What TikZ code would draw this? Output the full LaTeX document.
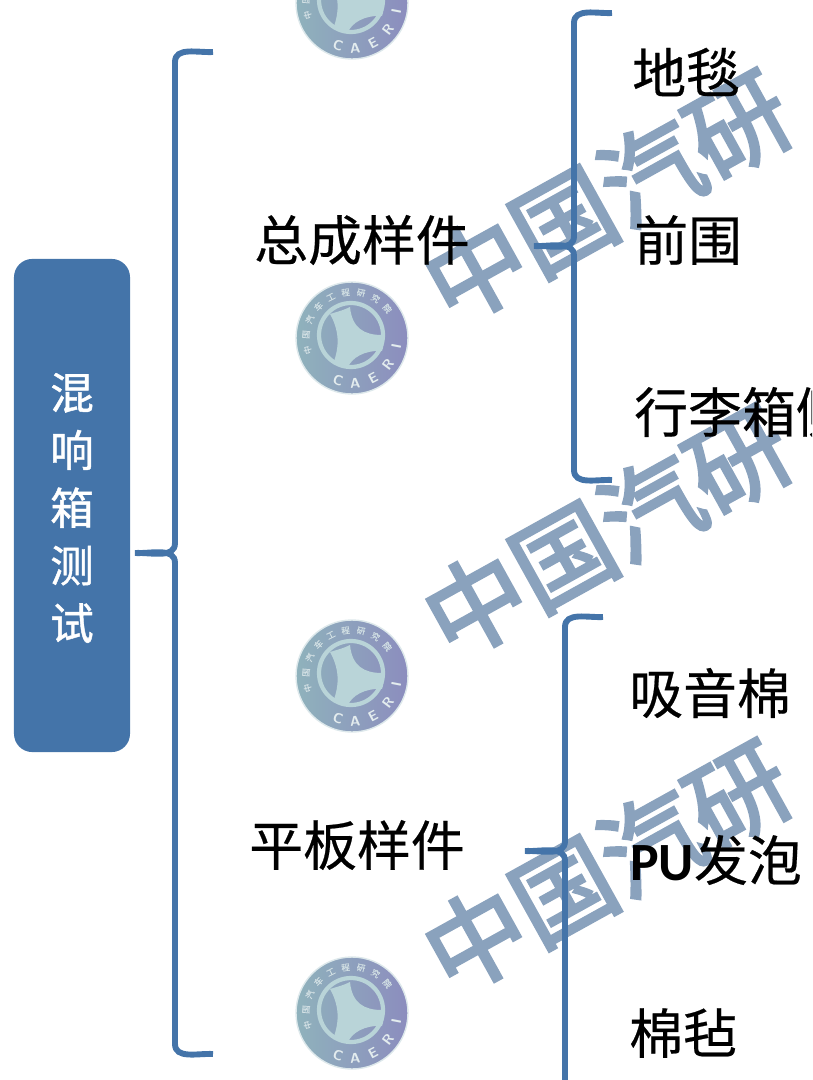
\documentclass[tikz,border=0pt]{standalone}
\usepackage{fontspec}
\usetikzlibrary{calc}
\setmainfont[FakeBold=0.4]{Noto Sans CJK SC}
\newfontfamily\latinbold{Carlito}
\newfontfamily\stampfont[FakeBold=3.2]{Noto Sans CJK SC}
\newfontfamily\boxfont[FakeBold=1]{Noto Sans CJK SC}
\definecolor{boxblue}{HTML}{4474A9}
\definecolor{markblue}{HTML}{8AA2BD}
\definecolor{logoleft}{HTML}{8FB2BC}
\definecolor{logoright}{HTML}{8C8DBE}
\definecolor{logolight}{HTML}{B9D4D8}
\newcommand{\bracedraw}[3]{%
  \draw[bracket] (#1) to[out=183,in=90] ($(#1)+(-38,-10)$) -- ($(#2)+(40,10)$)
    to[out=-90,in=3] (#2) to[out=-3,in=90] ($(#2)+(40,-10)$) -- ($(#3)+(-38,10)$)
    to[out=-90,in=177] (#3);}
\begin{document}
\begin{tikzpicture}[x=0.025cm, y=0.025cm,
    main/.style = {font=\fontsize{38.3pt}{40pt}\selectfont, inner sep=0pt, text=black},
    leaf/.style = {main, anchor=west},
    root/.style = {fill=boxblue, rounded corners=13pt, inner sep=0pt, minimum width=2.9cm, minimum height=12.325cm},
    rootlabel/.style = {text=white, inner sep=0pt, align=center, font=\fontsize{31pt}{41pt}\boxfont},
    bracket/.style = {draw=boxblue, line width=4.2pt},
    stamp/.style = {text=markblue, rotate=29, inner sep=0pt, font=\fontsize{71pt}{71pt}\stampfont},
    caeri/.pic = {
      \shade[left color=logoleft, right color=logoright, draw=white!70!logoleft, line width=1pt] (0,0) circle (56);
      \path[draw=logolight, line width=3pt] (-1,3) circle (32);
      \fill[logolight] (-22,24) .. controls (-12,27) and (-8,28) .. (-2,31)
        .. controls (0,10) and (12,3) .. (30,3) .. controls (32,-3) and (32,-8) .. (30,-13)
        .. controls (12,-12) and (0,-20) .. (-4,-29) .. controls (-10,-28) and (-15,-27) .. (-19,-26)
        .. controls (-12,-8) and (-13,8) .. cycle;
      \foreach \ch [count=\i from 0] in {中,国,汽,车,工,程,研,究,院}
        \node[text=white!60!logoleft, inner sep=0pt, font=\fontsize{6pt}{6pt}\selectfont, rotate={195-19.4*\i-90}]
          (seal\i) at ({195-19.4*\i}:46) {\ch};
      \foreach \ch/\ang [count=\i] in {C/-108,A/-86,E/-62,R/-37,I/-11}
        \node[text=white!75!logoleft, inner sep=0pt, font=\fontsize{10pt}{10pt}\selectfont\bfseries\sffamily, rotate={\ang+90}]
          (name\i) at (\ang:45) {\ch};
    }]
    \path[use as bounding box, clip] (0,0) rectangle (812,-1080);

    \node[stamp] (M1) at (607,-197) {中国汽研};
    \node[stamp] (M2) at (607,-532) {中国汽研};
    \node[stamp] (M3) at (607,-867) {中国汽研};

    \node[root] (R) at (72,-505.5) {};
    \node[rootlabel] (RL) at (72,-508) {混\\响\\箱\\测\\试};

    \coordinate (t0) at (135,-553);
    \coordinate (t0a) at (213,-52);
    \coordinate (t0b) at (213,-1054);
    \coordinate (t1) at (534,-246);
    \coordinate (t1a) at (612,-13);
    \coordinate (t1b) at (612,-480);
    \coordinate (t2) at (525,-851);
    \coordinate (t2a) at (603,-617);
    \coordinate (t2b) at (603,-1090);
    \bracedraw{t0a}{t0}{t0b}
    \bracedraw{t1a}{t1}{t1b}
    \bracedraw{t2a}{t2}{t2b}

    \pic (logoa) at (352,-3) {caeri};
    \pic (logob) at (352,-338) {caeri};
    \pic (logoc) at (352,-676) {caeri};
    \pic (logod) at (352,-1013) {caeri};

    \node[main] (A) at (362,-240) {总成样件};
    \node[main] (B) at (357,-845) {平板样件};
    \node[leaf] (A1) at (632,-72) {地毯};
    \node[leaf] (A2) at (634,-240) {前围};
    \node[leaf] (A3) at (634,-412) {行李箱侧};
    \node[leaf] (B1) at (629,-693) {吸音棉};
    \node[leaf] (B2) at (630,-860) {{\latinbold\bfseries PU}发泡};
    \node[leaf] (B3) at (629,-1033) {棉毡};
\end{tikzpicture}
\end{document}
